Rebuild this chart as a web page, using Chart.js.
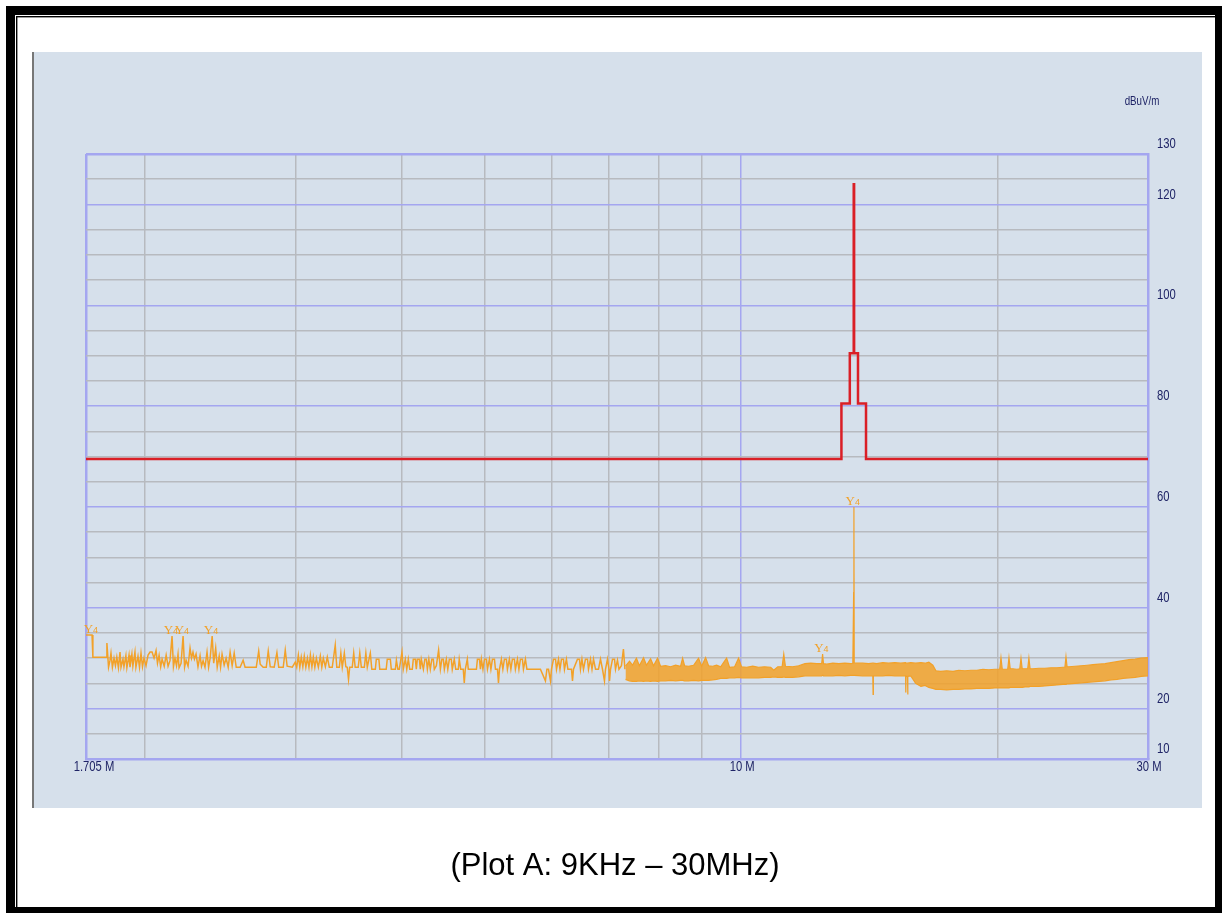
<!DOCTYPE html>
<html lang="en">
<head>
<meta charset="UTF-8">
<title>Plot A: 9KHz – 30MHz</title>
<script src="https://cdn.jsdelivr.net/npm/chart.js@4.4.3/dist/chart.umd.min.js"></script>
<style>
  html, body { margin: 0; padding: 0; background: #fff; }
  #plot { display: block; }
</style>
</head>
<body>
<canvas id="plot" width="1222" height="913"></canvas>
<script>
  // Limit line (dBuV/m) – each level holds from its frequency (MHz) to the next
  const limitFreq  = [1.705, 13.11, 13.41, 13.553, 13.567, 13.71, 14.01, 30];
  const limitLevel = [69.5, 80.5, 90.5, 124, 90.5, 80.5, 69.5, 69.5];

  // Measured trace, sparse part (MHz / dBuV/m)
  const scanFreq = [
    1.705, 1.733, 1.737, 1.800, 1.804, 1.812, 1.819, 1.824, 1.831, 1.839,
    1.846, 1.853, 1.861, 1.869, 1.874, 1.884, 1.889, 1.899, 1.904, 1.915,
    1.920, 1.930, 1.935, 1.946, 1.951, 1.962, 1.970, 1.978, 1.986, 1.994,
    2.005, 2.016, 2.027, 2.038, 2.049, 2.060, 2.068, 2.077, 2.086, 2.094,
    2.106, 2.117, 2.128, 2.139, 2.151, 2.159, 2.168, 2.177, 2.186, 2.192,
    2.204, 2.216, 2.225, 2.234, 2.246, 2.258, 2.267, 2.276, 2.285, 2.295,
    2.307, 2.320, 2.329, 2.339, 2.351, 2.364, 2.374, 2.384, 2.397, 2.407,
    2.420, 2.430, 2.443, 2.452, 2.462, 2.476, 2.489, 2.503, 2.516, 2.530,
    2.544, 2.558, 2.585, 2.606, 2.620, 2.700, 2.718, 2.729, 2.751, 2.774,
    2.789, 2.804, 2.834, 2.855, 2.869, 2.904, 2.920, 2.935, 2.976, 3.000,
    3.012, 3.025, 3.037, 3.049, 3.062, 3.074, 3.087, 3.100, 3.113, 3.125,
    3.138, 3.150, 3.163, 3.176, 3.193, 3.210, 3.223, 3.236, 3.254, 3.271,
    3.289, 3.315, 3.342, 3.356, 3.379, 3.393, 3.406, 3.425, 3.439, 3.452,
    3.464, 3.475, 3.499, 3.513, 3.527, 3.556, 3.571, 3.586, 3.615, 3.630,
    3.644, 3.674, 3.689, 3.724, 3.734, 3.760, 3.769, 3.835, 3.846, 3.878,
    3.888, 3.931, 3.942, 3.958, 3.973, 4.002, 4.016, 4.038, 4.054, 4.071,
    4.087, 4.115, 4.126, 4.149, 4.160, 4.171, 4.194, 4.205, 4.216, 4.240,
    4.257, 4.274, 4.286, 4.303, 4.320, 4.338, 4.355, 4.367, 4.391, 4.418,
    4.439, 4.457, 4.475, 4.487, 4.511, 4.529, 4.548, 4.572, 4.584, 4.609,
    4.627, 4.659, 4.671, 4.690, 4.722, 4.735, 4.748, 4.774, 4.787, 4.893,
    4.906, 4.933, 4.946, 4.959, 4.980, 5.000, 5.027, 5.041, 5.068, 5.088,
    5.109, 5.137, 5.151, 5.179, 5.193, 5.207, 5.234, 5.255, 5.277, 5.305,
    5.320, 5.348, 5.370, 5.392, 5.421, 5.436, 5.466, 5.488, 5.510, 5.540,
    5.555, 5.585, 5.608, 5.816, 5.895, 5.919, 5.944, 5.976, 5.992, 6.025,
    6.058, 6.074, 6.107, 6.131, 6.156, 6.189, 6.206, 6.239, 6.264, 6.325,
    6.342, 6.359, 6.428, 6.463, 6.480, 6.506, 6.533, 6.568, 6.604, 6.622,
    6.658, 6.685, 6.712, 6.749, 6.803, 6.840, 6.877, 6.914, 6.933, 6.970,
    6.998, 7.009, 7.028, 7.066, 7.104, 7.123, 7.161, 7.190, 7.238, 7.277,
    7.307
  ];
  const scanLevel = [
    34.6, 34.6, 30.2, 30.2, 33.0, 28.2, 29.5, 31.0, 28.2, 30.0,
    28.5, 30.2, 28.1, 31.2, 28.2, 29.8, 28.3, 30.5, 28.1, 30.6,
    28.2, 30.8, 28.4, 31.2, 28.2, 30.4, 28.2, 31.0, 28.3, 30.0,
    28.5, 30.6, 31.2, 31.2, 30.0, 31.5, 29.0, 30.6, 28.3, 29.8,
    28.4, 30.6, 28.4, 29.5, 34.4, 28.3, 30.0, 28.5, 30.8, 28.1,
    29.0, 34.4, 28.2, 29.6, 28.4, 32.0, 30.0, 31.2, 29.8, 30.8,
    28.3, 30.5, 28.4, 29.5, 28.2, 31.2, 28.2, 30.0, 34.4, 29.0,
    32.0, 28.2, 30.4, 28.2, 30.8, 28.6, 30.0, 28.2, 31.2, 28.5,
    31.0, 28.2, 28.2, 29.6, 28.2, 28.2, 31.4, 28.8, 28.2, 28.2,
    31.4, 28.3, 28.2, 31.1, 28.2, 28.2, 31.6, 28.4, 28.2, 29.2,
    28.2, 30.6, 28.2, 30.2, 28.3, 30.4, 28.2, 30.0, 28.2, 30.6,
    28.3, 30.2, 28.2, 30.0, 28.2, 30.4, 28.2, 30.0, 28.3, 30.2,
    28.2, 28.2, 32.6, 28.2, 28.2, 31.0, 28.2, 31.0, 28.3, 28.2,
    25.8, 28.2, 28.2, 31.0, 28.2, 28.2, 31.0, 28.2, 28.2, 31.0,
    28.2, 31.0, 27.8, 27.8, 29.8, 29.8, 27.8, 27.8, 29.8, 29.8,
    27.8, 27.8, 29.6, 27.8, 27.8, 31.2, 27.8, 29.8, 27.8, 29.8,
    27.8, 27.8, 29.8, 29.8, 27.8, 29.8, 29.8, 27.8, 29.8, 27.8,
    29.8, 29.8, 27.8, 29.8, 27.8, 29.8, 29.8, 27.8, 28.5, 31.6,
    27.8, 29.8, 29.8, 27.8, 29.8, 27.8, 29.8, 29.8, 27.8, 29.8,
    27.8, 27.8, 29.8, 27.8, 27.8, 25.1, 27.8, 29.8, 27.8, 27.8,
    29.8, 29.8, 27.8, 29.8, 27.8, 29.8, 29.8, 27.8, 29.8, 27.8,
    29.8, 29.8, 27.8, 27.8, 25.1, 27.8, 29.8, 27.8, 29.8, 29.8,
    27.8, 29.8, 27.8, 29.8, 29.8, 27.8, 29.8, 27.8, 29.8, 29.8,
    27.8, 29.8, 27.8, 27.8, 25.5, 27.8, 27.8, 25.5, 27.8, 29.8,
    29.8, 27.8, 29.8, 27.8, 29.8, 29.8, 27.8, 29.8, 27.8, 27.8,
    25.5, 27.8, 29.8, 29.8, 27.8, 29.8, 27.8, 29.8, 29.8, 27.8,
    29.8, 27.8, 29.8, 27.8, 27.8, 29.8, 27.8, 25.5, 27.8, 29.8,
    27.8, 25.5, 27.8, 29.8, 29.8, 27.8, 29.6, 27.8, 28.5, 31.8,
    27.8
  ];

  // Measured trace, dense part: upper and lower edge of the band
  const bandFreq = [
    7.318, 7.397, 7.457, 7.537, 7.597, 7.683, 7.744, 7.831, 7.894, 7.979,
    8.045, 8.154, 8.266, 8.378, 8.492, 8.538, 8.584, 8.675, 8.796, 8.913,
    8.988, 9.085, 9.158, 9.260, 9.359, 9.462, 9.615, 9.692, 9.826, 9.931,
    10.01, 10.15, 10.32, 10.48, 10.65, 10.83, 10.92, 11.04, 11.17, 11.22,
    11.27, 11.49, 11.68, 11.88, 12.07, 12.27, 12.43, 12.46, 12.49, 12.60, 12.81, 13.02,
    13.23, 13.45, 13.52, 13.55, 13.56, 13.57, 13.88, 14.11, 14.27, 14.28, 14.29, 14.42,
    14.66, 14.89, 15.14, 15.39, 15.59, 15.60, 15.61, 15.67, 15.68, 15.69, 15.81,
    16.02, 16.25, 16.43, 16.60, 16.78, 16.92, 17.14, 17.42, 17.72, 18.00,
    18.30, 18.60, 18.90, 19.21, 19.52, 19.84, 20.10, 20.17, 20.24, 20.39,
    20.54, 20.61, 20.68, 20.83, 21.06, 21.22, 21.29, 21.36, 21.52, 21.68,
    21.75, 21.82, 21.99, 22.34, 22.71, 23.09, 23.46, 23.85, 23.97, 24.04,
    24.11, 24.23, 24.63, 25.04, 25.45, 25.86, 26.28, 26.72, 27.15, 27.59,
    28.05, 28.50, 28.97, 29.45, 30.0
  ];
  const bandHigh = [
    28.4, 29.4, 28.6, 30.0, 28.5, 30.1, 28.6, 29.9, 28.5, 30.0,
    28.4, 28.5, 28.3, 28.6, 28.4, 30.0, 28.5, 28.4, 28.6, 30.0,
    28.4, 30.1, 28.5, 28.4, 28.6, 28.3, 30.0, 28.2, 28.3, 30.0,
    28.3, 28.2, 28.4, 28.2, 28.3, 28.2, 27.6, 28.3, 28.3, 30.8,
    28.4, 28.3, 28.5, 28.9, 29.0, 28.9, 28.9, 30.8, 28.9, 28.8, 29.0, 28.9,
    29.0, 28.9, 29.0, 43.0, 60.0, 29.0, 29.0, 28.9, 29.0, 29.0, 29.0, 28.9,
    29.1, 29.0, 29.1, 29.0, 29.1, 29.1, 29.0, 29.0, 29.0, 29.0, 29.1,
    29.0, 29.1, 29.0, 29.2, 28.6, 27.5, 27.4, 27.5, 27.4, 27.6,
    27.5, 27.6, 27.6, 27.8, 27.7, 27.8, 27.8, 30.1, 27.8, 27.8,
    27.8, 30.1, 27.9, 27.9, 27.8, 27.9, 30.0, 27.9, 27.9, 27.9,
    30.0, 27.9, 27.9, 28.0, 28.0, 28.1, 28.1, 28.2, 28.2, 30.3,
    28.3, 28.3, 28.4, 28.5, 28.6, 28.7, 28.8, 28.9, 29.1, 29.3,
    29.5, 29.7, 29.8, 30.0, 30.1
  ];
  const bandLow = [
    25.8, 25.5, 25.4, 25.4, 25.5, 25.4, 25.5, 25.4, 25.5, 25.4,
    25.5, 25.5, 25.6, 25.5, 25.6, 25.6, 25.5, 25.5, 25.6, 25.5,
    25.6, 25.6, 25.6, 25.7, 25.8, 26.0, 26.0, 26.1, 26.1, 26.2,
    26.1, 26.1, 26.1, 26.1, 26.2, 26.2, 26.3, 26.2, 26.2, 26.3,
    26.2, 26.2, 26.3, 26.5, 26.5, 26.5, 26.5, 26.6, 26.5, 26.5, 26.5, 26.6,
    26.5, 26.6, 26.6, 26.6, 26.6, 26.6, 26.5, 26.5, 26.5, 22.8, 26.5, 26.5,
    26.5, 26.6, 26.5, 26.5, 26.5, 23.2, 26.4, 26.4, 22.8, 26.4, 26.5,
    25.0, 24.4, 24.6, 24.2, 24.0, 23.8, 23.8, 23.7, 23.8, 23.8,
    23.9, 23.9, 24.0, 24.0, 24.0, 24.1, 24.1, 24.1, 24.1, 24.1,
    24.1, 24.1, 24.2, 24.2, 24.2, 24.2, 24.2, 24.2, 24.3, 24.3,
    24.3, 24.4, 24.4, 24.4, 24.5, 24.6, 24.7, 24.8, 24.8, 24.8,
    24.9, 24.9, 25.0, 25.1, 25.2, 25.3, 25.4, 25.5, 25.7, 25.8,
    26.0, 26.1, 26.2, 26.4, 26.5
  ];

  // Peak markers
  const markerFreq  = [1.733, 2.151, 2.216, 2.397, 12.46, 13.56];
  const markerLevel = [34.6, 34.4, 34.4, 34.4, 30.8, 60.0];

  // Axes
  const xTicks = [1.705, 2, 3, 4, 5, 6, 7, 8, 9, 10, 20, 30];
  const xTickLabels = ['1.705 M', '', '', '', '', '', '', '', '', '10 M', '', '30 M'];
  const yLabelled = [10, 20, 40, 60, 80, 100, 120, 130];
  const yUnit = 'dBuV/m';
  const caption = '(Plot A: 9KHz \u2013 30MHz)';

  const ORANGE = '#f2a129';
  const RED = '#da1f26';
  const BLUE = '#a4a6f0';
  const GRAY = '#b7babf';
  const NAVY = '#1f2466';
  const PANEL = '#d6e0eb';
  const SANS = "'Liberation Sans', Arial, sans-serif";

  function pts(xs, ys) {
    return xs.map((x, i) => ({ x: x, y: ys[i] }));
  }

  // narrow text like the analyser software's font
  function narrowText(ctx, txt, x, y, align) {
    ctx.save();
    ctx.translate(x, y);
    ctx.scale(0.75, 1);
    ctx.textAlign = align;
    ctx.fillText(txt, 0, 0);
    ctx.restore();
  }

  // frame, panel and caption
  const framePlugin = {
    id: 'frame',
    beforeDraw(chart) {
      const ctx = chart.ctx;
      ctx.save();
      ctx.fillStyle = '#fff';
      ctx.fillRect(0, 0, chart.width, chart.height);
      ctx.fillStyle = '#000';
      ctx.fillRect(6, 6, 1216, 907);
      ctx.fillStyle = '#fff';
      ctx.fillRect(15, 15, 1200, 892);
      ctx.fillStyle = '#000';
      ctx.fillRect(16, 16, 1199, 1.4);
      ctx.fillRect(16, 16, 1.4, 891);
      ctx.fillStyle = PANEL;
      ctx.fillRect(32, 52, 1170, 756);
      ctx.fillStyle = '#777';
      ctx.fillRect(32, 52, 2, 756);

      ctx.fillStyle = '#000';
      ctx.font = '31px ' + SANS;
      ctx.textAlign = 'center';
      ctx.textBaseline = 'middle';
      ctx.fillText(caption, 615, 866);
      ctx.restore();
    }
  };

  // tick labels and unit, placed from the scales
  const labelPlugin = {
    id: 'tickLabels',
    afterDraw(chart) {
      const ctx = chart.ctx;
      const xs = chart.scales.x, ys = chart.scales.y;
      ctx.save();
      ctx.fillStyle = NAVY;
      ctx.textBaseline = 'middle';
      ctx.font = '15px ' + SANS;
      xs.ticks.forEach((t, i) => {
        const txt = xTickLabels[i];
        if (!txt) return;
        const px = xs.getPixelForTick(i) + (i === 0 ? 8 : 1);
        narrowText(ctx, txt, px, ys.bottom + 8, 'center');
      });
      ys.ticks.forEach((t, i) => {
        if (!yLabelled.includes(t.value)) return;
        narrowText(ctx, String(t.value), xs.right + 9, ys.getPixelForTick(i) - 10, 'left');
      });
      ctx.font = '13px ' + SANS;
      narrowText(ctx, yUnit, xs.right - 6, ys.top - 53, 'center');
      ctx.restore();
    }
  };

  // "Y4" labels above marked peaks
  const markerPlugin = {
    id: 'markers',
    afterDatasetsDraw(chart) {
      const ctx = chart.ctx;
      const xs = chart.scales.x, ys = chart.scales.y;
      ctx.save();
      ctx.fillStyle = ORANGE;
      ctx.textBaseline = 'bottom';
      markerFreq.forEach((f, i) => {
        const px = xs.getPixelForValue(f);
        const py = ys.getPixelForValue(markerLevel[i]);
        ctx.font = "13px 'Liberation Serif', serif";
        ctx.textAlign = 'right';
        ctx.fillText('Y', px + 1, py + 1);
        ctx.font = "9px 'Liberation Sans', sans-serif";
        ctx.textAlign = 'left';
        ctx.fillText('4', px + 1, py);
      });
      ctx.restore();
    }
  };

  new Chart(document.getElementById('plot'), {
    type: 'line',
    data: {
      datasets: [
        {
          label: 'Limit',
          data: pts(limitFreq, limitLevel),
          borderColor: RED,
          borderWidth: 2.5,
          stepped: true,
          fill: false
        },
        {
          label: 'Peak',
          data: pts(scanFreq, scanLevel),
          borderColor: ORANGE,
          borderWidth: 1.5,
          fill: false
        },
        {
          label: 'Band low',
          data: pts(bandFreq, bandLow),
          borderColor: ORANGE,
          borderWidth: 1.2,
          fill: false
        },
        {
          label: 'Band high',
          data: pts(bandFreq, bandHigh),
          borderColor: ORANGE,
          borderWidth: 1.2,
          backgroundColor: 'rgba(242,161,41,0.85)',
          fill: '-1'
        }
      ]
    },
    options: {
      responsive: false,
      animation: false,
      devicePixelRatio: 1,
      layout: { padding: { left: 86, top: 154, right: 24, bottom: 124 } },
      elements: { point: { radius: 0 }, line: { tension: 0 } },
      plugins: { legend: { display: false }, tooltip: { enabled: false } },
      scales: {
        x: {
          type: 'logarithmic',
          min: 1.705,
          max: 30,
          afterBuildTicks: s => { s.ticks = xTicks.map(v => ({ value: v })); },
          afterFit: s => { s.height = 30; },
          grid: {
            drawTicks: false,
            color: c => (c.index === 0 || (c.tick && c.tick.value === 10)) ? BLUE : GRAY,
            lineWidth: c => c.index === 0 ? 2.5 : 1.5
          },
          border: { color: BLUE, width: 2.5 },
          ticks: { display: false, autoSkip: false, maxRotation: 0 }
        },
        y: {
          position: 'right',
          min: 10,
          max: 130,
          afterFit: s => { s.width = 50; },
          grid: {
            drawTicks: false,
            color: c => (c.tick.value % 20 === 0 || c.tick.value === 130) ? BLUE : GRAY,
            lineWidth: c => c.tick.value === 130 ? 2.5 : 1.5
          },
          border: { color: BLUE, width: 2.5 },
          ticks: { display: false, stepSize: 5, autoSkip: false }
        }
      }
    },
    plugins: [framePlugin, markerPlugin, labelPlugin]
  });
</script>
</body>
</html>
